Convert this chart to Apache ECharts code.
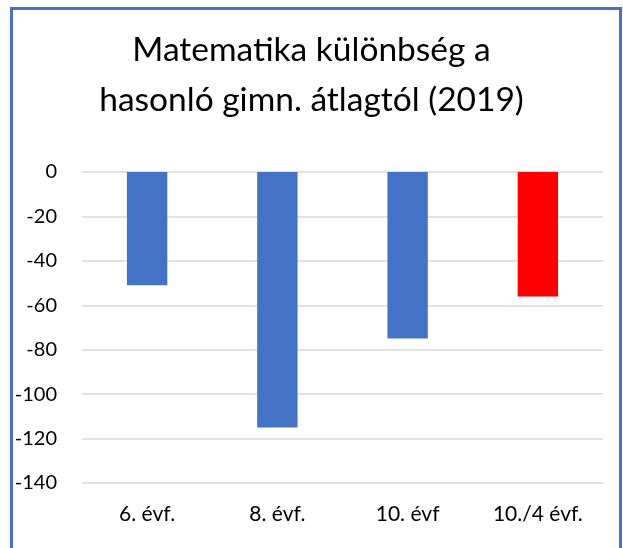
<!DOCTYPE html>
<html>
<head>
<meta charset="utf-8">
<script src="https://cdn.jsdelivr.net/npm/echarts@6/dist/echarts.min.js"></script>
<style>
html,body{margin:0;padding:0;background:#fff;}
#chart{width:623px;height:548px;}
</style>
</head>
<body>
<div id="chart"></div>
<script>
const categories = ["6. évf.", "8. évf.", "10. évf", "10./4 évf."];
const values = [-51, -115, -75, -56];
const barColors = ["#4472C4", "#4472C4", "#4472C4", "#FF0000"];
const yTicks = { min: -140, max: 0, interval: 20 };
const titleText = "Matematika különbség a\nhasonló gimn. átlagtól (2019)";

const chart = echarts.init(document.getElementById('chart'), null, { renderer: 'canvas' });
const fontFam = "Lato, 'Open Sans', sans-serif";
chart.setOption({
  backgroundColor: '#fff',
  animation: false,
  title: {
    text: titleText,
    left: 'center',
    top: 20,
    textStyle: { fontFamily: fontFam, fontSize: 33.5, fontWeight: 'normal', color: '#000', lineHeight: 50 }
  },
  graphic: [{
    type: 'rect',
    shape: { x: 11.5, y: 8.5, width: 609, height: 600 },
    style: { fill: 'none', stroke: '#4472C4', lineWidth: 3 },
    silent: true
  }],
  grid: { left: 82, right: 20, top: 172, bottom: 65 },
  xAxis: {
    type: 'category',
    data: categories,
    position: 'bottom',
    axisLine: { show: false },
    axisTick: { show: false },
    axisLabel: { fontFamily: fontFam, fontSize: 21, color: '#000', margin: 21 }
  },
  yAxis: {
    type: 'value',
    min: yTicks.min, max: yTicks.max, interval: yTicks.interval,
    axisLine: { show: false },
    axisTick: { show: false },
    axisLabel: { fontFamily: fontFam, fontSize: 20, color: '#000', margin: 25 },
    splitLine: { lineStyle: { color: '#D9D9D9', width: 1.5 } }
  },
  series: [{
    type: 'bar',
    data: values.map((v, i) => ({ value: v, itemStyle: { color: barColors[i] } })),
    barWidth: '31%'
  }]
});
</script>
</body>
</html>
